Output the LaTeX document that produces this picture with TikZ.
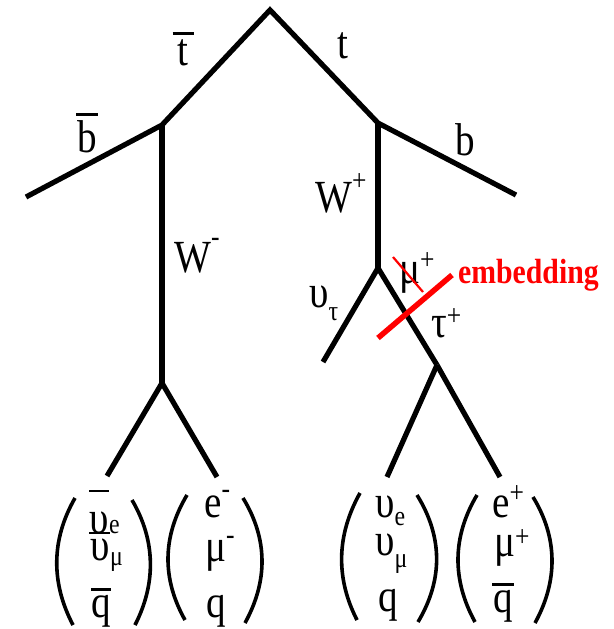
\documentclass[tikz,border=0pt]{standalone}
\usepackage{fontspec}
\setmainfont{Liberation Serif}[FakeStretch=0.85]
\newcommand\ovl[3]{\vbox{\hrule width #1 height 2.8pt\kern#2\hbox to #1{\hss#3\hss}}}
\newcommand\upr[2]{\raisebox{#1}{\fontsize{30}{30}\selectfont #2}}
\newcommand\lwr[2]{\raisebox{-#1}{\fontsize{28}{28}\selectfont #2}}
% column of three rows: skip12, skip23, row1, row2, row3
\newcommand\colvec[5]{\vbox{\lineskiplimit=-1000pt\hbox{#3}\baselineskip=#1\hbox{#4}\baselineskip=#2\hbox{#5}}}
\begin{document}
\begin{tikzpicture}[x=1pt,y=-1pt,
  fline/.style={line width=5.2pt},
  paren/.style={line width=3.6pt},
  lbl/.style={font=\fontsize{46}{50}\selectfont, inner sep=0pt, anchor=base},
  lblw/.style={lbl, anchor=base west},
  cut/.style={red, line width=5.5pt},
  emb/.style={font=\fontsize{35}{40}\selectfont\bfseries, text=red, inner sep=0pt, anchor=base west}]
\useasboundingbox (0,0) rectangle (613,629);
% vertices
\coordinate (top) at (270,10);
\coordinate (tb) at (162,125);
\coordinate (tt) at (378,123);
\coordinate (bbarend) at (26,197);
\coordinate (bend) at (516,195);
\coordinate (wm) at (162,383);
\coordinate (wp) at (378,268);
\coordinate (l1) at (107,476);
\coordinate (l2) at (217,477);
\coordinate (nut) at (323,362);
\coordinate (tau) at (437,365);
\coordinate (l3) at (387,477);
\coordinate (l4) at (500,477);
% lines
\draw[fline] (bbarend) -- (tb) -- (top) -- (tt) -- (bend);
\draw[fline] (tb) -- (wm);
\draw[fline] (wm) -- (l1);
\draw[fline] (wm) -- (l2);
\draw[fline] (tt) -- (wp);
\draw[fline] (wp) -- (nut);
\draw[fline] (wp) -- (tau);
\draw[fline] (tau) -- (l3);
\draw[fline] (tau) -- (l4);
% labels top
\node[lbl] (ltbar) at (183,65) {\ovl{21pt}{4.5pt}{t}};
\node[lbl] (lt) at (343,58) {t};
\node[lbl] (lbbar) at (87,152) {\ovl{22pt}{4.5pt}{b}};
\node[lbl] (lb) at (465,155) {b};
\node[lblw] (lwp) at (315,212) {W\upr{22pt}{+}};
\node[lblw] (lwm) at (174,272) {W\upr{26pt}{-}};
\node[lblw] (lnut) at (309,307) {υ\lwr{13pt}{τ}};
\node[lblw] (lmu) at (399,283) {μ\upr{14pt}{+}};
\node[lblw] (ltau) at (431,337) {τ\upr{12pt}{+}};
\node[emb] (lemb) at (458,283) {embedding};
% embedding cuts
\coordinate (c1) at (378,338);
\coordinate (c2) at (452,275);
\draw[cut] (c1) -- (c2);
\coordinate (s1) at (393,257);
\coordinate (s2) at (423,292);
\draw[red, line width=2.2pt] (s1) -- (s2);
% bottom groups
\node[lblw] (g1) at (89,617) {\colvec{27pt}{57pt}%
  {\ovl{20pt}{19pt}{υ}\lwr{0pt}{e}}%
  {\ovl{21pt}{4pt}{υ}\lwr{5pt}{μ}}%
  {\kern2pt\ovl{20pt}{4pt}{q}}};
\node[lblw] (g2) at (204,617) {\colvec{44pt}{56pt}%
  {e\upr{19pt}{-}}%
  {\kern1pt μ\upr{17pt}{-}}%
  {\kern2pt q}};
\node[lblw] (g3) at (375,611) {\colvec{38pt}{56pt}%
  {υ\lwr{8pt}{e}}%
  {υ\lwr{12pt}{μ}}%
  {\kern3pt q}};
\node[lblw] (g4) at (492,612) {\colvec{39pt}{56pt}%
  {e\upr{15pt}{+}}%
  {\kern2pt μ\upr{10pt}{+}}%
  {\ovl{22pt}{4pt}{q}}};
% parentheses
\draw[paren] (75,498) .. controls (51,540) and (51,583) .. (73,625);
\draw[paren] (132,500) .. controls (156,541) and (156,584) .. (135,625);
\draw[paren] (187,495) .. controls (162,537) and (162,579) .. (185,620);
\draw[paren] (243,498) .. controls (268,539) and (268,581) .. (245,623);
\draw[paren] (360,493) .. controls (336,536) and (336,579) .. (357,620);
\draw[paren] (417,495) .. controls (443,537) and (443,580) .. (418,622);
\draw[paren] (477,495) .. controls (452,537) and (452,580) .. (475,622);
\draw[paren] (533,497) .. controls (558,538) and (558,581) .. (535,623);
\end{tikzpicture}
\end{document}
